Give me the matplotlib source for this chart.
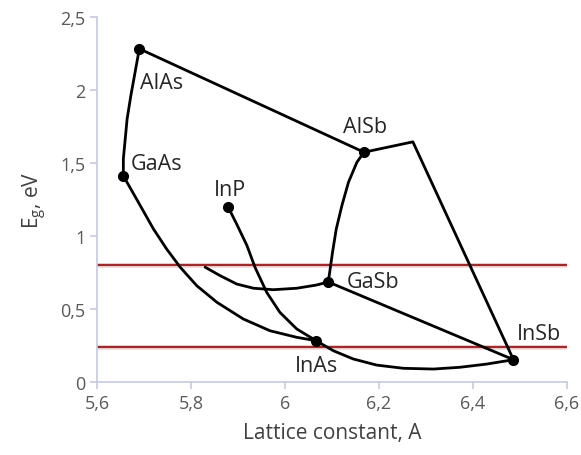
import matplotlib.pyplot as plt

plt.rcParams["font.family"] = ["Open Sans", "DejaVu Sans"]

# Binary compounds: lattice constant (A) and band gap (eV)
compounds = ["AlAs", "GaAs", "InP", "AlSb", "GaSb", "InSb", "InAs"]
lattice = [5.690, 5.656, 5.879, 6.168, 6.092, 6.486, 6.066]
gap = [2.281, 1.411, 1.197, 1.573, 0.685, 0.153, 0.283]

# Ternary boundaries
alas_gaas_a = [5.690, 5.681, 5.672, 5.664, 5.660, 5.656, 5.656]
alas_gaas_e = [2.281, 2.121, 1.961, 1.801, 1.664, 1.527, 1.411]

gaas_inas_a = [5.656, 5.684, 5.720, 5.748, 5.777, 5.812, 5.855, 5.911,
               5.968, 6.025, 6.066]
gaas_inas_e = [1.411, 1.253, 1.048, 0.911, 0.786, 0.660, 0.546, 0.432,
               0.351, 0.306, 0.283]

inp_inas_a = [5.879, 5.897, 5.919, 5.936, 5.961, 5.989, 6.025, 6.066]
inp_inas_e = [1.197, 1.082, 0.934, 0.786, 0.614, 0.477, 0.363, 0.283]

to_gasb_a = [5.830, 5.862, 5.897, 5.933, 5.975, 6.025, 6.067, 6.092]
to_gasb_e = [0.786, 0.728, 0.671, 0.642, 0.632, 0.642, 0.664, 0.685]

alsb_gasb_a = [6.168, 6.153, 6.135, 6.121, 6.109, 6.101, 6.096, 6.092]
alsb_gasb_e = [1.573, 1.505, 1.368, 1.208, 1.048, 0.888, 0.774, 0.685]

inas_insb_a = [6.066, 6.103, 6.145, 6.195, 6.252, 6.316, 6.372, 6.429, 6.486]
inas_insb_e = [0.283, 0.214, 0.158, 0.116, 0.094, 0.089, 0.101, 0.123, 0.153]

alas_alsb_a = [5.690, 6.168]
alas_alsb_e = [2.281, 1.573]

alsb_insb_a = [6.168, 6.272, 6.486]
alsb_insb_e = [1.573, 1.644, 0.153]

gasb_insb_a = [6.092, 6.486]
gasb_insb_e = [0.685, 0.153]

# Horizontal reference energies (eV)
ref_levels = [0.8, 0.24]

# Label anchors
label_a = [5.691, 5.672, 5.883, 6.171, 6.132, 6.494, 6.021]
label_e = [2.048, 1.493, 1.320, 1.747, 0.690, 0.330, 0.110]
label_ha = ["left", "left", "center", "center", "left", "left", "left"]

fig = plt.figure(figsize=(5.81, 4.56), dpi=100)
ax = fig.add_axes([0.167, 0.160, 0.809, 0.801])

for lev in ref_levels:
    ax.axhline(lev, color="#f6dcdc", lw=3.5, zorder=1)
    ax.axhline(lev, color="#9e2b2b", lw=1.6, zorder=2)

curves = [
    (alas_gaas_a, alas_gaas_e), (gaas_inas_a, gaas_inas_e),
    (inp_inas_a, inp_inas_e), (to_gasb_a, to_gasb_e),
    (alsb_gasb_a, alsb_gasb_e), (inas_insb_a, inas_insb_e),
    (alas_alsb_a, alas_alsb_e), (alsb_insb_a, alsb_insb_e),
    (gasb_insb_a, gasb_insb_e),
]
for xs, ys in curves:
    ax.plot(xs, ys, color="black", lw=2, solid_joinstyle="round",
            solid_capstyle="round", zorder=3)

ax.plot(lattice, gap, "o", color="black", ms=7, zorder=4)

for name, x, y, ha in zip(compounds, label_a, label_e, label_ha):
    ax.text(x, y, name, ha=ha, va="center", fontsize=15.5, color="#262626")

ax.set_xlim(5.6, 6.6)
ax.set_ylim(0, 2.5)
ax.set_xticks([5.6, 5.8, 6.0, 6.2, 6.4, 6.6])
ax.set_xticklabels(["5,6", "5,8", "6", "6,2", "6,4", "6,6"])
ax.set_yticks([0, 0.5, 1, 1.5, 2, 2.5])
ax.set_yticklabels(["0", "0,5", "1", "1,5", "2", "2,5"])

axis_col = "#c3cbe0"
for side in ["top", "right"]:
    ax.spines[side].set_visible(False)
for side in ["left", "bottom"]:
    ax.spines[side].set_color(axis_col)
    ax.spines[side].set_linewidth(1.2)
ax.tick_params(colors=axis_col, labelcolor="#595959", labelsize=13,
               length=5, width=1.2, direction="out")

ax.set_xlabel("Lattice constant, A", fontsize=15, color="#404040", labelpad=7)
ax.set_ylabel("E$_\\mathregular{g}$, eV", fontsize=15, color="#404040",
              labelpad=8)

fig.savefig("out.png", dpi=100)
